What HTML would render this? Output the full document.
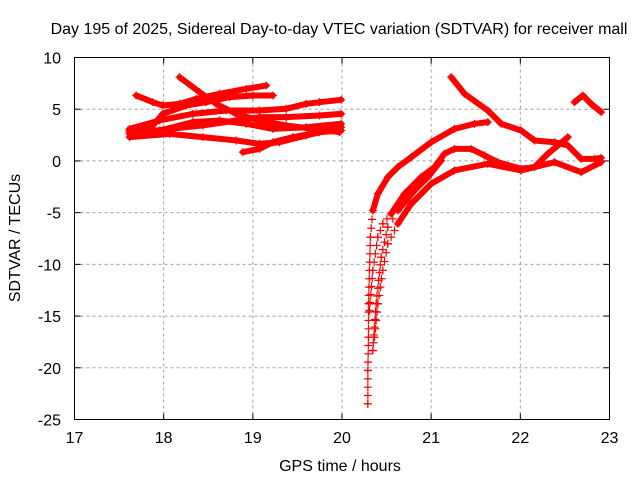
<!DOCTYPE html>
<html><head><meta charset="utf-8"><style>
body{margin:0;background:#fff}
text{font-family:"Liberation Sans",sans-serif;font-size:16px;fill:#000}
</style></head><body>
<svg id="chart" width="640" height="480" xmlns="http://www.w3.org/2000/svg">
<rect width="640" height="480" fill="#fff"/>
<text x="339" y="34" text-anchor="middle">Day 195 of 2025, Sidereal Day-to-day VTEC variation (SDTVAR) for receiver mall</text>
<text x="340" y="471" text-anchor="middle">GPS time / hours</text>
<text x="20" y="238" text-anchor="middle" transform="rotate(-90 20 238)">SDTVAR / TECUs</text>
<g id="grid"></g><g id="ticks"></g><g id="marks"></g>
<rect x="74.5" y="57.5" width="535" height="362" fill="none" stroke="#000" stroke-width="1"/>
</svg>
<script>
const xTicks=[17,18,19,20,21,22,23];
const yTicks=[10,5,0,-5,-10,-15,-20,-25];
const trackA_t=[20.290,20.290,20.297,20.297,20.308,20.319,20.346,20.402,20.514,20.626,20.776,21.000,21.261,21.486,21.635];
const trackA_v=[-23.49,-20.26,-17.04,-13.81,-10.59,-7.37,-4.79,-3.18,-1.57,-0.60,0.36,1.81,3.10,3.59,3.75];
const trackB_t=[20.308,20.346,20.402,20.458,20.551,20.701,20.888,21.037,21.149,21.261,21.448,21.598,21.747,22.009,22.159,22.308,22.533];
const trackB_v=[-14.46,-10.59,-7.37,-6.08,-5.11,-3.18,-1.57,-0.60,0.69,1.17,1.17,0.53,-0.12,-0.76,-0.60,0.69,2.30];
const trackC_t=[20.364,20.402,20.458,20.514,20.626,20.776,21.000,21.261,21.635,22.009,22.383,22.682,22.906];
const trackC_v=[-17.04,-13.81,-10.59,-8.01,-6.08,-4.15,-2.21,-0.92,-0.28,-0.92,-0.12,-1.09,-0.12];
const trackF_t=[20.346,20.383,20.439,20.514,20.626,20.813,20.963,21.112];
const trackF_v=[-18.33,-13.81,-9.30,-6.40,-4.79,-2.86,-1.57,0.04];
const trackD_t=[21.224,21.374,21.635,21.785,22.009,22.159,22.383,22.533,22.682,22.832,22.906];
const trackD_v=[8.10,6.49,4.88,3.59,2.94,1.98,1.81,1.49,0.20,0.20,0.30];
const trackE_t=[22.607,22.701,22.794,22.906];
const trackE_v=[5.68,6.33,5.52,4.72];
const trackL1_t=[18.178,18.402,18.589,18.813,19.075,19.374,19.673,19.972];
const trackL1_v=[8.10,6.65,5.52,4.55,3.91,3.43,3.10,2.78];
const trackL2_t=[17.692,17.879,17.991,18.178,18.365,18.627,18.926,19.150];
const trackL2_v=[6.33,5.68,5.36,5.52,6.00,6.49,6.97,7.29];
const trackL3_t=[17.617,17.879,17.991,18.253,18.477,18.739,19.000,19.225];
const trackL3_v=[2.94,3.43,4.55,5.36,5.68,6.17,6.33,6.33];
const trackL4_t=[17.617,17.954,18.327,18.701,19.075,19.374,19.598,19.748,19.991];
const trackL4_v=[3.10,3.91,4.55,4.88,4.88,5.04,5.52,5.68,5.91];
const trackL5_t=[17.617,18.066,18.440,18.813,19.075,19.374,19.748,19.991];
const trackL5_v=[2.62,3.10,3.43,3.91,4.23,4.23,4.39,4.55];
const trackL6_t=[17.617,18.066,18.440,18.813,19.075,19.299,19.598,19.991];
const trackL6_v=[2.30,2.62,2.30,1.98,1.65,1.81,2.46,3.26];
const trackL7_t=[18.888,19.075,19.225,19.449,19.748,19.991];
const trackL7_v=[0.85,1.17,1.81,2.30,2.78,2.94];
const trackL8_t=[17.617,17.954,18.327,18.627,18.926,19.225,19.598,19.991];
const trackL8_v=[2.78,2.94,3.75,3.91,3.59,3.10,3.26,3.59];
const tracks=[[trackA_t,trackA_v],[trackB_t,trackB_v],[trackC_t,trackC_v],[trackF_t,trackF_v],[trackD_t,trackD_v],[trackE_t,trackE_v],[trackL1_t,trackL1_v],[trackL2_t,trackL2_v],[trackL3_t,trackL3_v],[trackL4_t,trackL4_v],[trackL5_t,trackL5_v],[trackL6_t,trackL6_v],[trackL7_t,trackL7_v],[trackL8_t,trackL8_v]];
const X0=74.5,X1=609.5,Y0=57.5,Y1=419.5;
const xs=t=>X0+(t-17)/6*(X1-X0);
const ys=v=>Y0+(10-v)/35*(Y1-Y0);
const NS="http://www.w3.org/2000/svg";
const grid=document.getElementById('grid'),ticks=document.getElementById('ticks'),marks=document.getElementById('marks');
function mk(tag,attrs,parent){const e=document.createElementNS(NS,tag);for(const k in attrs)e.setAttribute(k,attrs[k]);parent.appendChild(e);return e;}
xTicks.forEach(t=>{const x=xs(t);
 if(t>17&&t<23){const g=mk('line',{x1:x,x2:x,y1:Y0,y2:Y1,stroke:'#a0a0a0','stroke-dasharray':'3,3'},grid);
 
 }
 mk('line',{x1:x,x2:x,y1:Y1,y2:Y1-6,stroke:'#000'},ticks);mk('line',{x1:x,x2:x,y1:Y0,y2:Y0+6,stroke:'#000'},ticks);
 const l=mk('text',{x:x,y:443,'text-anchor':'middle'},ticks);l.textContent=t;
 
 });
yTicks.forEach(v=>{const y=ys(v);
 if(v<10&&v>-25){const g=mk('line',{x1:X0,x2:X1,y1:y,y2:y,stroke:'#a0a0a0','stroke-dasharray':'3,3'},grid);
 
 }
 mk('line',{x1:X0,x2:X0+6,y1:y,y2:y,stroke:'#000'},ticks);mk('line',{x1:X1,x2:X1-6,y1:y,y2:y,stroke:'#000'},ticks);
 const l=mk('text',{x:61,y:y+6,'text-anchor':'end'},ticks);l.textContent=v;
 
 });
function cross(x,y){
 const m=mk('path',{d:`M${x-4},${y}H${x+4}M${x},${y-4}V${y+4}`,stroke:'#ff0000','stroke-width':1.2},marks);
 
 }
tracks.forEach((tr,i)=>{const [T,V]=tr;
 for(let j=0;j<T.length-1;j++){
  const x1=xs(T[j]),y1=ys(V[j]),x2=xs(T[j+1]),y2=ys(V[j+1]);
  const steep=V[j]<-4.5&&V[j+1]<-4.5;
  if(steep){
   const n=Math.max(1,Math.round(Math.hypot(x2-x1,y2-y1)/8));
   for(let k=0;k<n;k++)cross(x1+(x2-x1)*k/n,y1+(y2-y1)*k/n);
  } else {
   const p=mk('line',{x1:x1,y1:y1,x2:x2,y2:y2,stroke:'#ff0000','stroke-width':6,'stroke-linecap':'round'},marks);
   
   
  }
 }
 T.forEach((t,j)=>cross(xs(t),ys(V[j])));});
</script>
</body></html>
